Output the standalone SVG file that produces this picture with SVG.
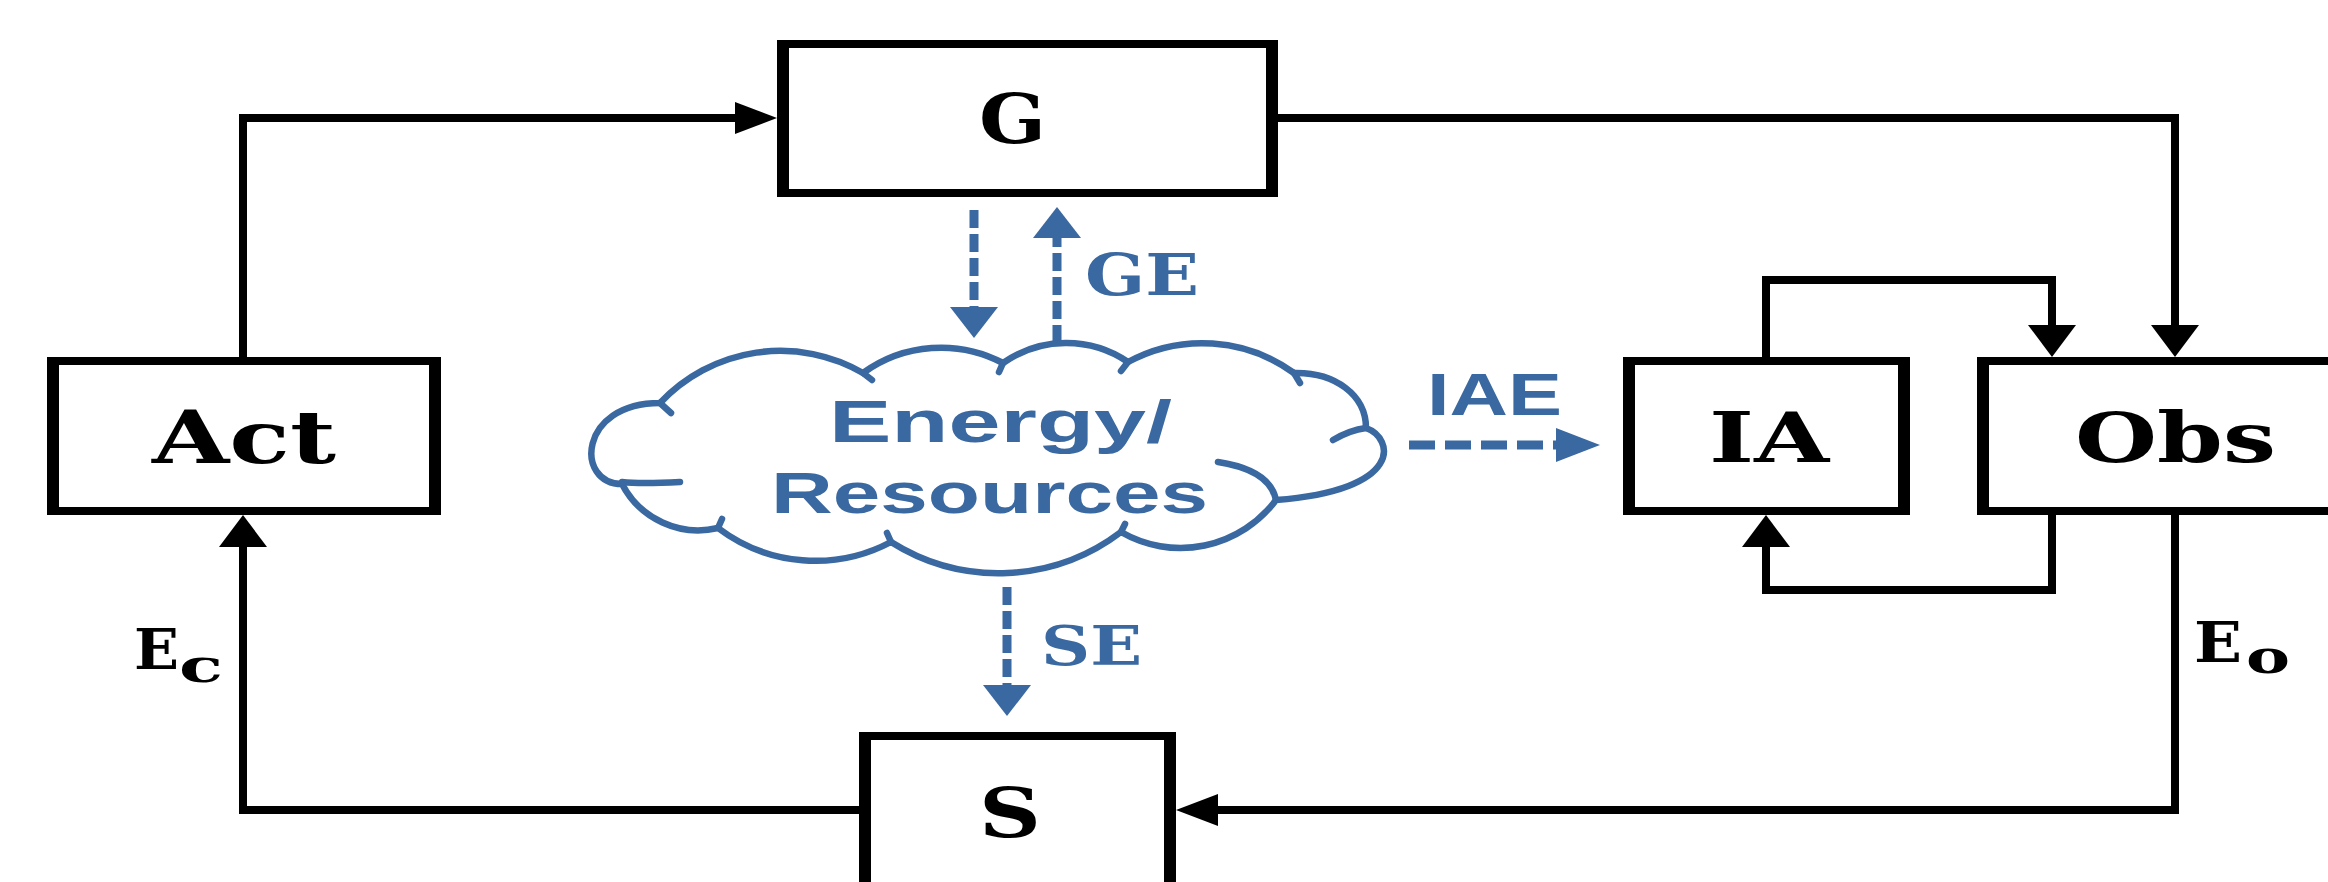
<svg xmlns="http://www.w3.org/2000/svg" width="2328" height="882" viewBox="0 0 2328 882">
<style>
.frame{fill:#000}
.inner{fill:#fff}
.lbl{font-family:"DejaVu Serif","Liberation Serif",serif;font-weight:bold;fill:#000}
.blbl{font-family:"DejaVu Serif","Liberation Serif",serif;font-weight:bold;fill:#3A68A0}
.slbl{font-family:"Liberation Sans",Arial,sans-serif;font-weight:bold;fill:#3A68A0}
.conn{fill:none;stroke:#000;stroke-width:8;stroke-linejoin:miter}
.dash{fill:none;stroke:#3A68A0;stroke-width:9}
.cloud{fill:#fff;stroke:#3A68A0;stroke-width:6.5}
.hook{fill:none;stroke:#3A68A0;stroke-width:6.5;stroke-linecap:round}
</style>
<defs>
<marker id="ah" markerUnits="userSpaceOnUse" markerWidth="42" markerHeight="32" viewBox="0 0 42 32" refX="0" refY="16" orient="auto"><path d="M0,0 L42,16 L0,32 Z" fill="#000"/></marker>
<marker id="av" markerUnits="userSpaceOnUse" markerWidth="32" markerHeight="48" viewBox="0 0 32 48" refX="0" refY="24" orient="auto"><path d="M0,0 L32,24 L0,48 Z" fill="#000"/></marker>
<marker id="bh" markerUnits="userSpaceOnUse" markerWidth="44" markerHeight="34" viewBox="0 0 44 34" refX="0" refY="17" orient="auto"><path d="M0,0 L44,17 L0,34 Z" fill="#3A68A0"/></marker>
<marker id="bv" markerUnits="userSpaceOnUse" markerWidth="31" markerHeight="48" viewBox="0 0 31 48" refX="0" refY="24" orient="auto"><path d="M0,0 L31,24 L0,48 Z" fill="#3A68A0"/></marker>
</defs>
<rect x="0" y="0" width="2328" height="882" fill="#fff"/>

<g id="connectors">
<path class="conn" d="M243,357 V118 H735" marker-end="url(#ah)"/>
<path class="conn" d="M1278,118 H2175 V325" marker-end="url(#av)"/>
<path class="conn" d="M1766,357 V280 H2052 V325" marker-end="url(#av)"/>
<path class="conn" d="M2052,515 V590 H1766 V547" marker-end="url(#av)"/>
<path class="conn" d="M2175,515 V810 H1218" marker-end="url(#ah)"/>
<path class="conn" d="M859,810 H243 V547" marker-end="url(#av)"/>
<path class="dash" d="M974,210 V307" stroke-dasharray="18 6" marker-end="url(#bv)"/>
<path class="dash" d="M1057,343 V238" stroke-dasharray="18 6" marker-end="url(#bv)"/>
<path class="dash" d="M1007,587 V685" stroke-dasharray="18 6" marker-end="url(#bv)"/>
<path class="dash" d="M1409,445 H1556" stroke-dasharray="26 10" marker-end="url(#bh)"/>
</g>

<g id="node-G">
<rect class="frame" x="777" y="40" width="501" height="157"/>
<rect class="inner" x="789" y="48" width="477" height="141"/>
<text class="lbl" x="979" y="143" font-size="70" textLength="67" lengthAdjust="spacingAndGlyphs">G</text>
</g>

<g id="node-Act">
<rect class="frame" x="47" y="357" width="394" height="158"/>
<rect class="inner" x="59" y="365" width="370" height="142"/>
<text class="lbl" x="152" y="463" font-size="72" textLength="184" lengthAdjust="spacingAndGlyphs">Act</text>
</g>

<g id="node-IA">
<rect class="frame" x="1623" y="357" width="287" height="158"/>
<rect class="inner" x="1635" y="365" width="263" height="142"/>
<text class="lbl" x="1709" y="462" font-size="69" textLength="120" lengthAdjust="spacingAndGlyphs">IA</text>
</g>

<g id="node-Obs">
<rect class="frame" x="1977" y="357" width="363" height="158"/>
<rect class="inner" x="1989" y="365" width="351" height="142"/>
<text class="lbl" x="2075" y="462" font-size="69" textLength="201" lengthAdjust="spacingAndGlyphs">Obs</text>
</g>

<g id="node-S">
<rect class="frame" x="859" y="732" width="317" height="160"/>
<rect class="inner" x="871" y="740" width="293" height="152"/>
<text class="lbl" x="979" y="837" font-size="70" textLength="62" lengthAdjust="spacingAndGlyphs">S</text>
</g>

<g id="node-Energy">
<path class="cloud" d="M660,403 A165,165 0 0 1 863,373 A133,133 0 0 1 1003,363 A110,110 0 0 1 1128,362 A156,156 0 0 1 1294,373 C1335,372 1366,395 1366,428 C1394,438 1405,490 1276,500 A119,119 0 0 1 1121,532 A202,202 0 0 1 891,542 A161,161 0 0 1 718,528 A86,86 0 0 1 622,484 C575,484 578,403 660,403 Z"/>
<path class="hook" d="M622,482 Q640,484 680,482"/>
<path class="hook" d="M660,403 L671,413"/>
<path class="hook" d="M1366,428 Q1350,430 1333,440"/>
<path class="hook" d="M1218,462 Q1270,470 1276,500"/>
<path class="hook" d="M863,373 L872,380"/>
<path class="hook" d="M1003,363 L999,372"/>
<path class="hook" d="M1128,362 L1121,371"/>
<path class="hook" d="M1294,373 L1300,383"/>
<path class="hook" d="M1121,532 L1125,524"/>
<path class="hook" d="M891,542 L887,533"/>
<path class="hook" d="M718,528 L722,519"/>
<text class="slbl" x="829" y="442" font-size="60" textLength="343" lengthAdjust="spacingAndGlyphs">Energy/</text>
<text class="slbl" x="771" y="513" font-size="58" textLength="437" lengthAdjust="spacingAndGlyphs">Resources</text>
</g>

<g id="labels">
<text class="lbl" x="134" y="669" font-size="56" textLength="45" lengthAdjust="spacingAndGlyphs">E</text>
<text class="lbl" x="179" y="682" font-size="46" textLength="44" lengthAdjust="spacingAndGlyphs">c</text>
<text class="lbl" x="2194" y="662" font-size="56" textLength="48" lengthAdjust="spacingAndGlyphs">E</text>
<text class="lbl" x="2246" y="673" font-size="46" textLength="44" lengthAdjust="spacingAndGlyphs">o</text>
<text class="blbl" x="1085" y="295" font-size="58" textLength="114" lengthAdjust="spacingAndGlyphs">GE</text>
<text class="blbl" x="1041" y="665" font-size="55" textLength="101" lengthAdjust="spacingAndGlyphs">SE</text>
<text class="slbl" x="1427" y="415" font-size="59" textLength="135" lengthAdjust="spacingAndGlyphs">IAE</text>
</g>
</svg>
